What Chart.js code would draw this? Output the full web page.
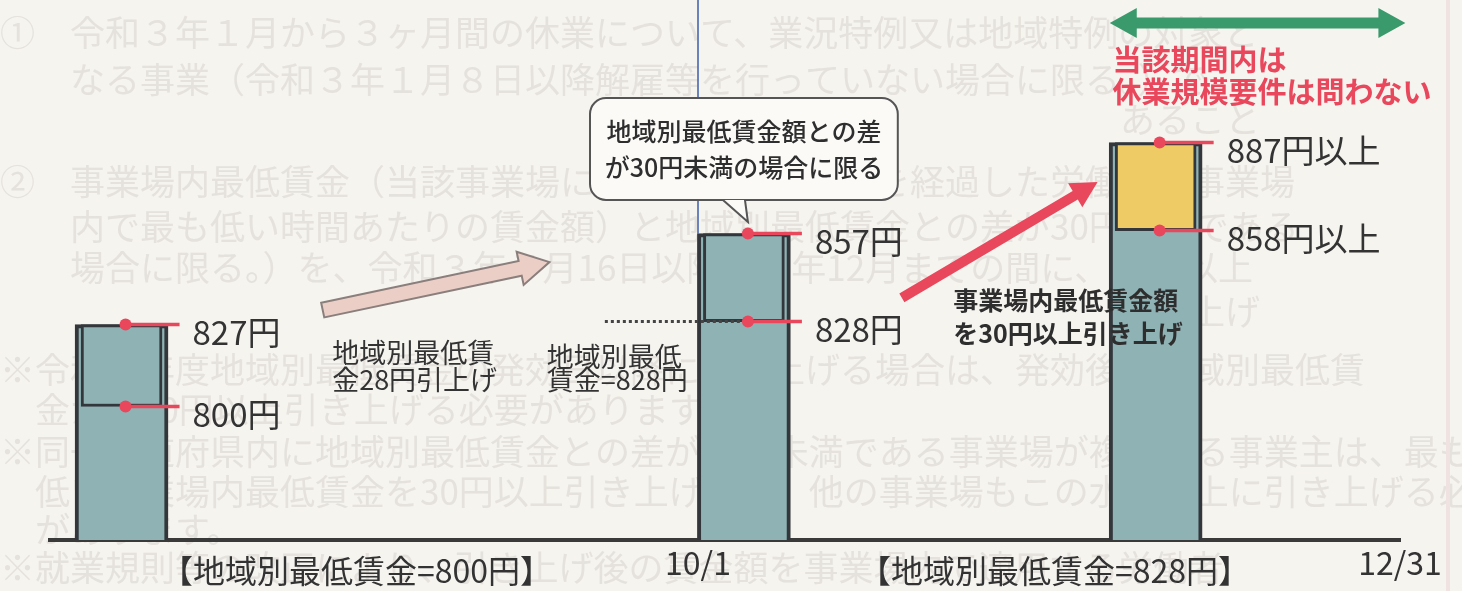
<!DOCTYPE html>
<html>
<head>
<meta charset="utf-8">
<script src="https://cdn.jsdelivr.net/npm/chart.js@4/dist/chart.umd.min.js"></script>
<style>
    html, body { margin: 0; padding: 0; background: #f6f4ef; }
    #wrap { width: 1462px; height: 591px; position: relative; }
</style>
</head>
<body>
<div id="wrap"><canvas id="chart"></canvas></div>
<script>
// 時間軸上の位置 (0 = 左端, 100 = 12/31)
const barPos = [5.3, 51.4, 81.9];
// 各時点の賃金 (円)
const barTop = [827, 857, 887];
const innerLow = [800, 828, 858];
const innerHigh = [827, 857, 887];
const markSuffix = ['円', '円', '円以上'];

// 横軸の目盛り
const tickPos = [22.7, 48, 74.4, 100];
const tickLabels = ['【地域別最低賃金=800円】', '10/1', '【地域別最低賃金=828円】', '12/31'];

const yMin = 756;
const yMax = 934;

const FONT = "'Noto Sans CJK JP', 'Noto Sans', sans-serif";
const TEAL = '#8fb2b5';
const DARK = '#33373b';
const RED = '#e8475c';

// 注記の配置 (軸の単位)
const notes = {
    callout: { x1: 40.0, x2: 62.8, y1: 901.7, y2: 868.1, tip: [51.7, 860.8], lines: ['地域別最低賃金額との差', 'が30円未満の場合に限る'] },
    pinkArrow: { from: [20.2, 831.8], to: [37.0, 847.6] },
    redArrow: { from: [63.1, 835.8], to: [77.6, 874.0] },
    greenArrow: { from: 78.5, to: 100.4, y: 926.4 },
    redText: { x: 78.7, y: [914.2, 903.7], lines: ['当該期間内は', '休業規模要件は問わない'] },
    raiseText: { x: 20.9, y: [817.7, 808.8], lines: ['地域別最低賃', '金28円引上げ'] },
    minText: { x: 36.8, y: [816.3, 808.7], lines: ['地域別最低', '賃金=828円'] },
    boldText: { x: 66.9, y: [835.1, 824.2], lines: ['事業場内最低賃金額', 'を30円以上引き上げ'] },
    dotted: { from: 41.1 }
};

// 裏に透けている本文 (薄く描く)
const ghostRows = [33, 80, 120, 182, 227, 268, 312, 370, 410, 452, 492, 530, 568];
const ghostLines = [
    '①　令和３年１月から３ヶ月間の休業について、業況特例又は地域特例の対象と',
    '　　なる事業（令和３年１月８日以降解雇等を行っていない場合に限る。）で',
    '　　　　　　　　　　　　　　　　　　　　　　　　　　　　　　　　あること',
    '②　事業場内最低賃金（当該事業場における雇入れ３月を経過した労働者の事業場',
    '　　内で最も低い時間あたりの賃金額）と地域別最低賃金との差が30円未満である',
    '　　場合に限る。）を、令和３年７月16日以降、同年12月までの間に、30円以上',
    '　　　　　　　　　　　　　　　　　　　　　　　　　　　　　　　　引き上げ',
    '※令和３年度地域別最低賃金の発効日以降に引き上げる場合は、発効後の地域別最低賃',
    '　金から30円以上引き上げる必要があります。',
    '※同一都道府県内に地域別最低賃金との差が30円未満である事業場が複数ある事業主は、最も',
    '　低い事業場内最低賃金を30円以上引き上げれば、他の事業場もこの水準以上に引き上げる必要',
    '　があります。',
    '※就業規則等の改正により、引き上げ後の賃金額を事業場内で適用する労働者'
];

const outerData = barPos.map((x, i) => ({ x: x, y: [yMin, barTop[i]] }));
const innerData = barPos.map((x, i) => ({ x: x, y: [innerLow[i], innerHigh[i]] }));

const blockArrowPath = (ctx, x1, y1, x2, y2, shaft, head, headLen) => {
    const ang = Math.atan2(y2 - y1, x2 - x1);
    const len = Math.hypot(x2 - x1, y2 - y1);
    const pts = [[0, -shaft], [len - headLen, -shaft], [len - headLen, -head], [len, 0],
        [len - headLen, head], [len - headLen, shaft], [0, shaft]];
    ctx.beginPath();
    pts.forEach(([px, py], k) => {
        const rx = x1 + px * Math.cos(ang) - py * Math.sin(ang);
        const ry = y1 + px * Math.sin(ang) + py * Math.cos(ang);
        if (k === 0) ctx.moveTo(rx, ry); else ctx.lineTo(rx, ry);
    });
    ctx.closePath();
};

const notesPlugin = {
    id: 'notes',
    beforeDraw(chart) {
        const { ctx } = chart;
        ctx.save();
        ctx.fillStyle = '#f6f4ef';
        ctx.fillRect(0, 0, chart.width, chart.height);
        ctx.font = '35px ' + FONT;
        ctx.fillStyle = '#e5e2dd';
        ctx.textAlign = 'left';
        ctx.textBaseline = 'middle';
        ghostLines.forEach((t, k) => ctx.fillText(t, 0, ghostRows[k]));
        // 紙の端の線
        ctx.fillStyle = '#f1e2e2';
        ctx.fillRect(1446, 0, 4, chart.height);
        ctx.restore();
    },
    beforeDatasetsDraw(chart) {
        const { ctx, scales: { x, y } } = chart;
        // 10/1 の縦線
        ctx.save();
        ctx.strokeStyle = '#3d5ea8';
        ctx.lineWidth = 1.5;
        ctx.beginPath();
        const bx = x.getPixelForValue(tickPos[1]);
        ctx.moveTo(bx, 0);
        ctx.lineTo(bx, y.getPixelForValue(barTop[1]));
        ctx.stroke();
        ctx.restore();
    },
    afterDatasetsDraw(chart) {
        const { ctx, scales: { x, y } } = chart;
        ctx.save();

        // 点線 (828円の水準)
        ctx.strokeStyle = '#444';
        ctx.lineWidth = 3;
        ctx.setLineDash([3, 3]);
        ctx.beginPath();
        ctx.moveTo(x.getPixelForValue(notes.dotted.from), y.getPixelForValue(innerLow[1]));
        ctx.lineTo(x.getPixelForValue(barPos[1]), y.getPixelForValue(innerLow[1]));
        ctx.stroke();
        ctx.setLineDash([]);

        // 赤い目印と金額
        barPos.forEach((p, i) => {
            const cx = x.getPixelForValue(p);
            [innerHigh[i], innerLow[i]].forEach(v => {
                const py = y.getPixelForValue(v);
                ctx.strokeStyle = RED;
                ctx.lineWidth = 3.5;
                ctx.beginPath();
                ctx.moveTo(cx + 4, py);
                ctx.lineTo(cx + 58, py);
                ctx.stroke();
                ctx.fillStyle = RED;
                ctx.beginPath();
                ctx.arc(cx + 4, py, 6, 0, Math.PI * 2);
                ctx.fill();
                ctx.fillStyle = '#333';
                ctx.font = '33px ' + FONT;
                ctx.textAlign = 'left';
                ctx.textBaseline = 'middle';
                ctx.fillText(v + markSuffix[i], cx + 71, py + 8);
            });
        });

        // 吹き出し
        const c = notes.callout;
        const bx1 = x.getPixelForValue(c.x1), bx2 = x.getPixelForValue(c.x2);
        const by1 = y.getPixelForValue(c.y1), by2 = y.getPixelForValue(c.y2);
        const tx = x.getPixelForValue(c.tip[0]), ty = y.getPixelForValue(c.tip[1]);
        ctx.fillStyle = '#fbfaf7';
        ctx.strokeStyle = '#555';
        ctx.lineWidth = 2;
        ctx.beginPath();
        ctx.roundRect(bx1, by1, bx2 - bx1, by2 - by1, 16);
        ctx.fill();
        ctx.stroke();
        ctx.beginPath();
        ctx.moveTo(tx - 25, by2);
        ctx.lineTo(tx, ty);
        ctx.lineTo(tx - 3, by2);
        ctx.fill();
        ctx.beginPath();
        ctx.moveTo(tx - 25, by2);
        ctx.lineTo(tx, ty);
        ctx.lineTo(tx - 3, by2);
        ctx.stroke();
        ctx.fillStyle = '#2e2e2e';
        ctx.font = '500 25px ' + FONT;
        ctx.textAlign = 'center';
        ctx.textBaseline = 'middle';
        ctx.fillText(c.lines[0], (bx1 + bx2) / 2, by1 + 34);
        ctx.fillText(c.lines[1], (bx1 + bx2) / 2, by1 + 70);

        // ピンクの矢印
        const pa = notes.pinkArrow;
        blockArrowPath(ctx, x.getPixelForValue(pa.from[0]), y.getPixelForValue(pa.from[1]),
            x.getPixelForValue(pa.to[0]), y.getPixelForValue(pa.to[1]), 7.5, 17, 30);
        ctx.fillStyle = '#ebcfc7';
        ctx.fill();
        ctx.strokeStyle = '#8a7f7c';
        ctx.lineWidth = 2;
        ctx.stroke();

        // 赤い矢印
        const ra = notes.redArrow;
        blockArrowPath(ctx, x.getPixelForValue(ra.from[0]), y.getPixelForValue(ra.from[1]),
            x.getPixelForValue(ra.to[0]), y.getPixelForValue(ra.to[1]), 5, 14, 26);
        ctx.fillStyle = RED;
        ctx.fill();

        // 緑の両矢印
        const ga = notes.greenArrow;
        const gx1 = x.getPixelForValue(ga.from), gx2 = x.getPixelForValue(ga.to), gy = y.getPixelForValue(ga.y);
        ctx.fillStyle = '#3a9a6c';
        ctx.beginPath();
        ctx.moveTo(gx1, gy);
        ctx.lineTo(gx1 + 27, gy - 15);
        ctx.lineTo(gx1 + 27, gy - 5.5);
        ctx.lineTo(gx2 - 27, gy - 5.5);
        ctx.lineTo(gx2 - 27, gy - 15);
        ctx.lineTo(gx2, gy);
        ctx.lineTo(gx2 - 27, gy + 15);
        ctx.lineTo(gx2 - 27, gy + 5.5);
        ctx.lineTo(gx1 + 27, gy + 5.5);
        ctx.lineTo(gx1 + 27, gy + 15);
        ctx.closePath();
        ctx.fill();

        // 文字
        const drawLines = (n, font, color) => {
            ctx.font = font;
            ctx.fillStyle = color;
            ctx.textAlign = 'left';
            ctx.textBaseline = 'middle';
            n.lines.forEach((t, k) => ctx.fillText(t, x.getPixelForValue(n.x), y.getPixelForValue(n.y[k])));
        };
        drawLines(notes.redText, 'bold 29px ' + FONT, RED);
        drawLines(notes.raiseText, '27px ' + FONT, '#333');
        drawLines(notes.minText, '27px ' + FONT, '#333');
        drawLines(notes.boldText, 'bold 25px ' + FONT, '#2e2e2e');

        ctx.restore();
    }
};

const ctx = document.getElementById('chart').getContext('2d');

new Chart(ctx, {
    type: 'bar',
    data: {
        datasets: [
            {
                label: '賃金',
                data: outerData,
                backgroundColor: TEAL,
                borderColor: DARK,
                borderWidth: 4,
                borderSkipped: 'start',
                barThickness: 93,
                grouped: false,
                order: 2
            },
            {
                label: '内枠',
                data: innerData,
                backgroundColor: [TEAL, TEAL, '#efcb66'],
                borderColor: DARK,
                borderWidth: 3,
                borderSkipped: false,
                barThickness: 81,
                grouped: false,
                order: 1
            }
        ]
    },
    options: {
        responsive: true,
        maintainAspectRatio: false,
        animation: false,
        layout: {
            padding: { left: 50, right: 62, top: 0, bottom: 0 }
        },
        plugins: {
            legend: { display: false },
            tooltip: { enabled: false }
        },
        scales: {
            x: {
                type: 'linear',
                min: 0,
                max: 100,
                offset: false,
                grid: { display: false, drawTicks: false },
                border: { display: true, color: '#3a3a3a', width: 4 },
                afterBuildTicks: (scale) => {
                    scale.ticks = tickPos.map(v => ({ value: v }));
                },
                afterFit: (scale) => {
                    scale.height = 51;
                },
                ticks: {
                    autoSkip: false,
                    maxRotation: 0,
                    padding: 8,
                    color: '#333',
                    font: (c) => (c.index % 2 === 0)
                        ? { family: FONT, size: 32, lineHeight: 1.4 }
                        : { family: FONT, size: 32, lineHeight: 0.95 },
                    callback: (value, index) => tickLabels[index]
                }
            },
            y: {
                display: false,
                min: yMin,
                max: yMax
            }
        }
    },
    plugins: [notesPlugin]
});
</script>
</body>
</html>
